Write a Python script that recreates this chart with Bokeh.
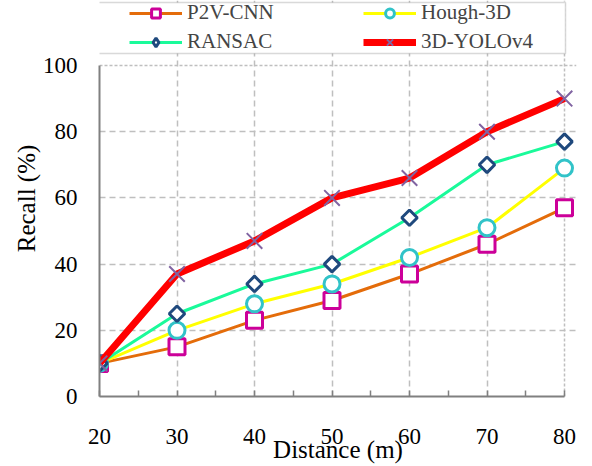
from bokeh.plotting import figure
from bokeh.models import (Legend, LegendItem, SingleIntervalTicker, FixedTicker,
                          BoxAnnotation, Range1d, Grid)
from bokeh.embed import file_html
from bokeh.resources import INLINE
import math

distance = [20, 30, 40, 50, 60, 70, 80]
p2v_cnn = [10, 15, 23, 29, 37, 46, 57]
hough_3d = [10, 20, 28, 34, 42, 51, 69]
ransac = [10, 25, 34, 40, 54, 70, 77]
yolo = [10, 37, 47, 60, 66, 80, 90]
y_ticks_max = 100

FONT = "Liberation Serif"
x_lo, x_hi = distance[0], distance[-1]

p = figure(width=592, height=466, output_backend="svg", toolbar_location=None,
           x_range=Range1d(x_lo, 81.548), y_range=Range1d(0, 119.64),
           min_border_left=99, min_border_right=16, min_border_top=0, min_border_bottom=70)
p.background_fill_color = "white"
p.border_fill_color = "white"
p.outline_line_alpha = 0

# grids
p.xgrid.ticker = FixedTicker(ticks=distance[1:-1])
p.ygrid.ticker = FixedTicker(ticks=[20, 40, 60, 80])
p.xgrid.bounds = (0, y_ticks_max)
p.ygrid.bounds = (x_lo, x_hi)
for g in (p.xgrid, p.ygrid):
    g.grid_line_color = "#BFBFBF"
    g.grid_line_dash = "6 4"
    g.grid_line_width = 1.5

top_grid = Grid(dimension=1, ticker=FixedTicker(ticks=[y_ticks_max]), bounds=(x_lo, x_hi),
                grid_line_color="#BFBFBF", grid_line_dash="3 2", grid_line_width=1.5)
right_grid = Grid(dimension=0, ticker=FixedTicker(ticks=[x_hi]), bounds=(0, y_ticks_max),
                  grid_line_color="#BFBFBF", grid_line_dash="3 2", grid_line_width=1.5)
p.add_layout(top_grid)
p.add_layout(right_grid)

# axes
p.xaxis.ticker = SingleIntervalTicker(interval=10, num_minor_ticks=2)
p.yaxis.ticker = SingleIntervalTicker(interval=20, num_minor_ticks=0)
p.xaxis.bounds = (x_lo, x_hi)
p.yaxis.bounds = (0, y_ticks_max)
for ax in (p.xaxis, p.yaxis):
    ax.axis_line_color = "#808080"
    ax.axis_line_width = 2
    ax.major_tick_line_color = "#808080"
    ax.major_tick_line_width = 1.5
    ax.major_tick_out = 0
    ax.major_tick_in = 0
    ax.minor_tick_line_color = "#808080"
    ax.minor_tick_line_width = 1.5
    ax.minor_tick_out = 0
    ax.minor_tick_in = 6
    ax.major_label_text_font = FONT
    ax.major_label_text_font_size = "23px"
    ax.major_label_text_color = "black"
    ax.axis_label_text_font = FONT
    ax.axis_label_text_font_size = "25px"
    ax.axis_label_text_font_style = "normal"
    ax.axis_label_text_color = "black"
p.xaxis.major_label_standoff = 32
p.yaxis.major_label_standoff = 22
p.xaxis.axis_label = "Distance (m)"
p.yaxis.axis_label = "Recall (%)"
p.xaxis.axis_label_standoff = -11
p.yaxis.axis_label_standoff = 0

series = [
    ("P2V-CNN", p2v_cnn, "#E46C0A", 3, "square", 0.0, "square", "#CC0099", 16, 3),
    ("Hough-3D", hough_3d, "#FFFF00", 3, "circle", 0.0, "circle", "#31C3C8", 16, 3),
    ("RANSAC", ransac, "#1AFA9A", 3, "square", math.pi / 4, "diamond", "#1F497D", 11, 3),
    ("3D-YOLOv4", yolo, "#FF0000", 7, "x", 0.0, "x", "#8064A2", 22, 2),
]

items = []
for name, vals, lc, lw, mk, ang, legend_mk, mc, ms, mw in series:
    r1 = p.line(distance, vals, line_color=lc, line_width=lw)
    r2 = p.scatter(distance, vals, marker=mk, size=ms, angle=ang, line_color=mc,
                   fill_color="white", line_width=mw)
    if legend_mk != mk:
        # hidden legend proxy so the key shows the diamond shape
        r3 = p.scatter(distance, vals, marker=legend_mk, size=ms, line_color=mc,
                       fill_color="white", line_width=mw, visible=False)
        items.append(LegendItem(label=name, renderers=[r1, r3]))
    else:
        items.append(LegendItem(label=name, renderers=[r1, r2]))

box = BoxAnnotation(left=-2, right=466, top=394, bottom=343,
                    left_units="screen", right_units="screen",
                    top_units="screen", bottom_units="screen",
                    fill_color="white", fill_alpha=1, line_color="#808080", line_width=1.5)
p.add_layout(box)

legend = Legend(items=items, ncols=2, orientation="horizontal", location=(28, 340),
                label_text_font=FONT, label_text_font_size="21px",
                label_height=22, glyph_height=22, glyph_width=53,
                label_standoff=5, label_width=172, spacing=4, padding=2,
                border_line_alpha=0, background_fill_alpha=0,
                inactive_fill_alpha=0)
p.add_layout(legend, "center")

open("out.html", "w").write(file_html(p, INLINE))
